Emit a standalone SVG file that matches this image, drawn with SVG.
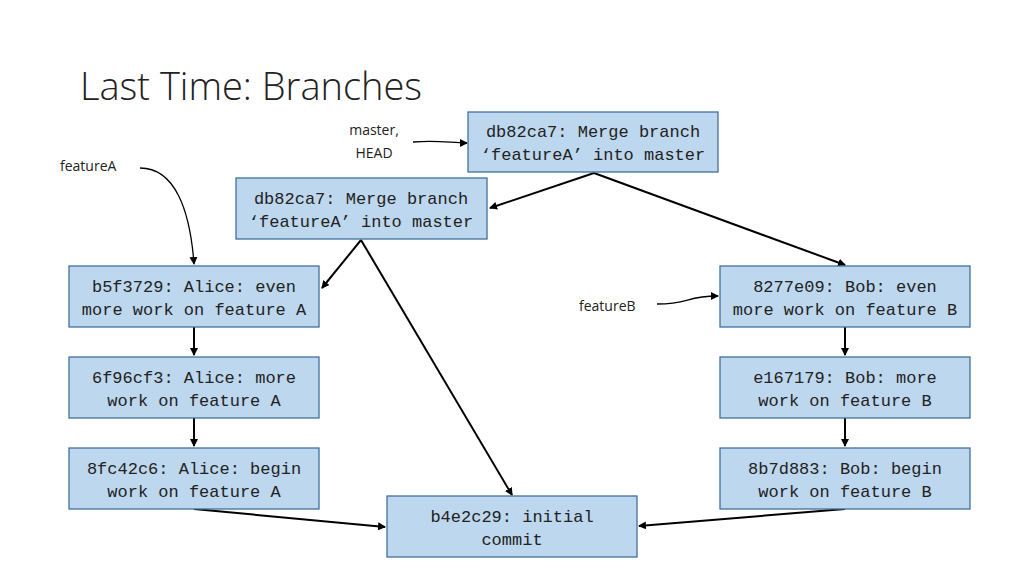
<svg xmlns="http://www.w3.org/2000/svg" width="1024" height="576" viewBox="0 0 1024 576">
<style>
.n rect{fill:#bdd7ee;stroke:#41719c;stroke-width:1.3}
.n text{font-family:"Liberation Mono",monospace;font-size:17px;fill:#222;text-anchor:middle}
.c path{fill:none;stroke:#000;stroke-width:2;marker-end:url(#a)}
.c path.t{stroke-width:1.3}
.l{font-family:"Open Sans","Liberation Sans",sans-serif;font-size:14px;fill:#222}
</style>
<defs><marker id="a" markerWidth="8" markerHeight="8" refX="7" refY="4" orient="auto" markerUnits="userSpaceOnUse"><path d="M0,0L8,4L0,8z" fill="#000"/></marker></defs>
<rect width="1024" height="576" fill="#fff"/>
<text x="80" y="100" font-family="Open Sans,Liberation Sans,sans-serif" font-weight="300" font-size="38" fill="#222">Last Time: Branches</text>
<text class="l" x="374" y="135" text-anchor="middle">master,</text>
<text class="l" x="374" y="158" text-anchor="middle">HEAD</text>
<text class="l" x="60" y="171">featureA</text>
<text class="l" x="579" y="311">featureB</text>
<g class="c">
<path d="M594,173L490,208"/>
<path d="M594,173L845,265"/>
<path d="M361,240L322,288"/>
<path d="M361,240L512,495"/>
<path d="M194,327V355"/>
<path d="M194,418V446"/>
<path d="M845,327V355"/>
<path d="M845,418V446"/>
<path d="M194,509L385,527"/>
<path d="M845,509L639,526"/>
<path class="t" d="M140,168C175,168 190,210 194,264"/>
<path class="t" d="M413,142C440,140 450,143 467,143"/>
<path class="t" d="M657,304C690,304 685,296 718,296"/>
</g>
<g id="m1" class="n"><rect x="468" y="112" width="250" height="60"/><text x="593" y="137">db82ca7: Merge branch</text><text x="593" y="160">‘featureA’ into master</text></g>
<g id="m2" class="n"><rect x="236" y="178" width="251" height="61"/><text x="361" y="204">db82ca7: Merge branch</text><text x="361" y="227">‘featureA’ into master</text></g>
<g id="a3" class="n"><rect x="69" y="266" width="250" height="61"/><text x="194" y="292">b5f3729: Alice: even</text><text x="194" y="315">more work on feature A</text></g>
<g id="a2" class="n"><rect x="69" y="357" width="250" height="61"/><text x="194" y="383">6f96cf3: Alice: more</text><text x="194" y="406">work on feature A</text></g>
<g id="a1" class="n"><rect x="69" y="448" width="250" height="61"/><text x="194" y="474">8fc42c6: Alice: begin</text><text x="194" y="497">work on feature A</text></g>
<g id="b3" class="n"><rect x="720" y="266" width="250" height="61"/><text x="845" y="292">8277e09: Bob: even</text><text x="845" y="315">more work on feature B</text></g>
<g id="b2" class="n"><rect x="720" y="357" width="250" height="61"/><text x="845" y="383">e167179: Bob: more</text><text x="845" y="406">work on feature B</text></g>
<g id="b1" class="n"><rect x="720" y="448" width="250" height="61"/><text x="845" y="474">8b7d883: Bob: begin</text><text x="845" y="497">work on feature B</text></g>
<g id="root" class="n"><rect x="387" y="496" width="250" height="61"/><text x="512" y="522">b4e2c29: initial</text><text x="512" y="545">commit</text></g>
</svg>
